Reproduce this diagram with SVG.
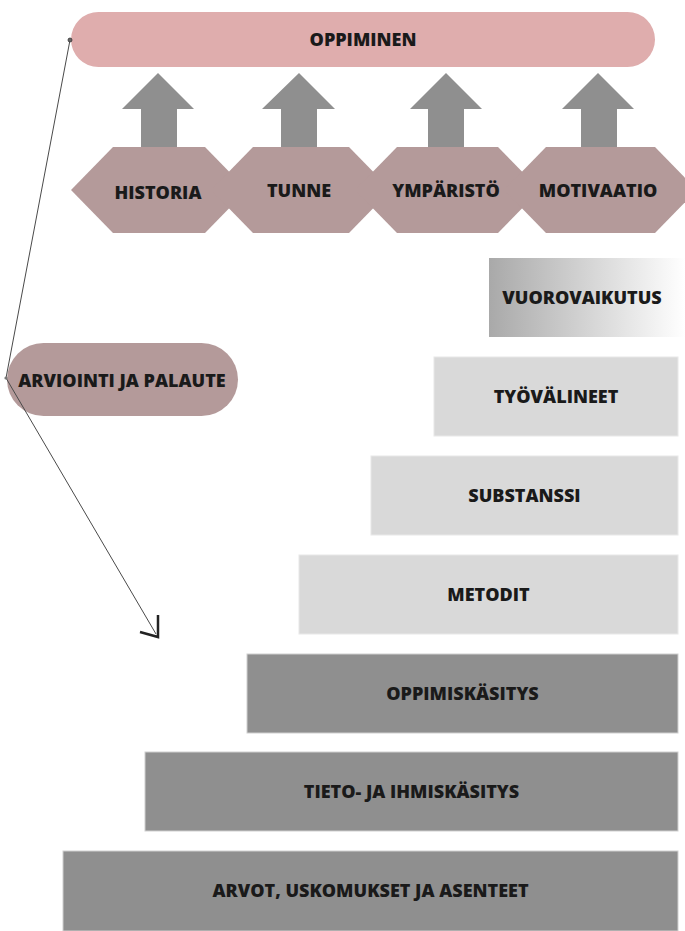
<svg xmlns="http://www.w3.org/2000/svg" width="685" height="931" viewBox="0 0 685 931">
<defs>
<style>
.t{font-family:"Open Sans","Liberation Sans",sans-serif;font-weight:800;font-size:18px;fill:#1a1a1a;text-anchor:middle}
.hex{fill:#b49a9a}
.up{fill:#8f8f8f}
.lt{fill:#d9d9d9;stroke:#e8e8e8;stroke-width:1}
.dk{fill:#8f8f8f;stroke:#cfcfcf;stroke-width:1}
.con{fill:none;stroke:#4a4a4a;stroke-width:1}
</style>
<linearGradient id="gv" x1="0" y1="0" x2="1" y2="0">
<stop offset="0" stop-color="#a9a9a9"/>
<stop offset="1" stop-color="#ffffff"/>
</linearGradient>
</defs>
<rect width="685" height="931" fill="#ffffff"/>

<g id="oppiminen">
<rect x="71" y="12" width="584" height="55" rx="27.5" fill="#dfadad"/>
<text class="t" x="363" y="46">OPPIMINEN</text>
</g>

<g id="arrows">
<polygon class="up" points="158,73 194,109 177,109 177,150 141,150 141,109 122,109"/>
<polygon class="up" points="299,73 335,109 317,109 317,150 281,150 281,109 262,109"/>
<polygon class="up" points="446,73 482,109 464,109 464,150 428,150 428,109 410,109"/>
<polygon class="up" points="598,73 634,109 617,109 617,150 581,150 581,109 562,109"/>
</g>

<g id="historia">
<polygon class="hex" points="71,190 113,147 205,147 247,190 205,233 113,233"/>
<text class="t" x="158" y="198.5">HISTORIA</text>
</g>
<g id="tunne">
<polygon class="hex" points="211,190 253,147 349,147 391,190 349,233 253,233"/>
<text class="t" x="299" y="196.5">TUNNE</text>
</g>
<g id="ymparisto">
<polygon class="hex" points="355,190 397,147 498,147 540,190 498,233 397,233"/>
<text class="t" x="446" y="196.5">YMPÄRISTÖ</text>
</g>
<g id="motivaatio">
<polygon class="hex" points="504,190 546,147 655,147 697,190 655,233 546,233"/>
<text class="t" x="598" y="196.5">MOTIVAATIO</text>
</g>

<g id="vuorovaikutus">
<rect x="489" y="258" width="196" height="79" fill="url(#gv)"/>
<text class="t" x="582" y="304">VUOROVAIKUTUS</text>
</g>
<g id="tyovalineet">
<rect class="lt" x="434" y="357" width="244" height="79"/>
<text class="t" x="556" y="403">TYÖVÄLINEET</text>
</g>
<g id="substanssi">
<rect class="lt" x="371" y="456" width="307" height="79"/>
<text class="t" x="524.5" y="502">SUBSTANSSI</text>
</g>
<g id="metodit">
<rect class="lt" x="299" y="555" width="379" height="79"/>
<text class="t" x="488.5" y="601">METODIT</text>
</g>
<g id="oppimiskasitys">
<rect class="dk" x="247" y="654" width="431" height="79"/>
<text class="t" x="462.5" y="700">OPPIMISKÄSITYS</text>
</g>
<g id="tieto">
<rect class="dk" x="145" y="752" width="533" height="79"/>
<text class="t" x="411.5" y="798">TIETO- JA IHMISKÄSITYS</text>
</g>
<g id="arvot">
<rect class="dk" x="63" y="851" width="615" height="80"/>
<text class="t" x="370.5" y="897">ARVOT, USKOMUKSET JA ASENTEET</text>
</g>

<g id="arviointi">
<rect x="7" y="343" width="231" height="73" rx="36.5" fill="#b49a9a"/>
<text class="t" x="122" y="387">ARVIOINTI JA PALAUTE</text>
</g>

<g id="connectors">
<path class="con" d="M70,40 L6,378 L156,634"/>
<circle cx="70" cy="40" r="2" fill="#666" stroke="#333" stroke-width="0.8"/>
<circle cx="6" cy="378" r="1.6" fill="#777"/>
<path d="M158,615 L158,637 L140,632" fill="none" stroke="#222" stroke-width="2.5" stroke-linejoin="miter"/>
</g>
</svg>
